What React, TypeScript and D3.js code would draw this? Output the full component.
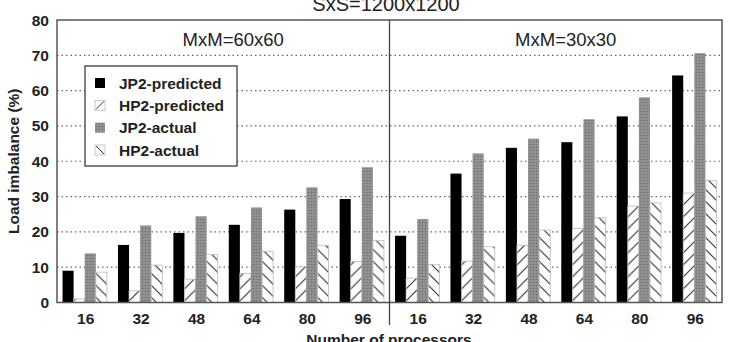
import React from "react";
import * as d3 from "d3";

const procs = ["16", "32", "48", "64", "80", "96"];
const panels = ["MxM=60x60", "MxM=30x30"];
const series = ["JP2-predicted", "HP2-predicted", "JP2-actual", "HP2-actual"];

// MxM=60x60
const jp2Pred60 = [9.0, 16.3, 19.7, 22.0, 26.3, 29.3];
const hp2Pred60 = [1.0, 3.3, 6.6, 8.2, 10.1, 11.6];
const jp2Act60 = [13.9, 21.8, 24.4, 26.9, 32.6, 38.3];
const hp2Act60 = [8.6, 10.6, 13.6, 14.5, 16.2, 17.5];
// MxM=30x30
const jp2Pred30 = [18.9, 36.5, 43.8, 45.4, 52.7, 64.3];
const hp2Pred30 = [6.9, 11.7, 16.2, 21.0, 27.3, 31.0];
const jp2Act30 = [23.6, 42.2, 46.4, 51.9, 58.1, 70.6];
const hp2Act30 = [10.8, 15.8, 20.5, 24.0, 28.2, 34.6];

const yTicks = [0, 10, 20, 30, 40, 50, 60, 70, 80];

const W = 736;
const H = 342;
const left = 57;
const right = 722;
const top = 20;
const bottom = 302.5;

const font = "'Liberation Sans', Arial, Helvetica, sans-serif";

const fills: Record<string, string> = {
  "JP2-predicted": "#000",
  "HP2-predicted": "url(#hatchFwd)",
  "JP2-actual": "url(#stipple)",
  "HP2-actual": "url(#hatchBack)",
};
const strokes: Record<string, string> = {
  "JP2-predicted": "none",
  "HP2-predicted": "#bbb",
  "JP2-actual": "none",
  "HP2-actual": "#bbb",
};

export default function App() {
  const data: Record<string, number[][]> = {
    "MxM=60x60": [jp2Pred60, hp2Pred60, jp2Act60, hp2Act60],
    "MxM=30x30": [jp2Pred30, hp2Pred30, jp2Act30, hp2Act30],
  };

  const y = d3.scaleLinear().domain([0, 80]).range([bottom, top]);
  const xPanel = d3.scaleBand<string>().domain(panels).range([left, right]);
  const xGroup = d3
    .scaleBand<string>()
    .domain(procs)
    .range([0, xPanel.bandwidth()])
    .paddingInner(0.2)
    .paddingOuter(0.1);
  const xSeries = d3.scaleBand<string>().domain(series).range([0, xGroup.bandwidth()]);

  const divider = xPanel("MxM=30x30") as number;
  const legendRows = d3.scalePoint<string>().domain(series).range([83, 150]);

  return (
    <div style={{ position: "absolute", left: 0, top: 0 }}>
      <svg width={W} height={H} style={{ display: "block", background: "#fff" }} fontFamily={font}>
        <defs>
          <pattern id="hatchFwd" patternUnits="userSpaceOnUse" width={12} height={12}>
            <rect width={12} height={12} fill="#fff" />
            <path d="M0,12 L12,0 M-3,3 L3,-3 M9,15 L15,9" stroke="#333" strokeWidth={1.1} />
          </pattern>
          <pattern id="hatchBack" patternUnits="userSpaceOnUse" width={12} height={12}>
            <rect width={12} height={12} fill="#fff" />
            <path d="M0,0 L12,12 M-3,9 L3,15 M9,-3 L15,3" stroke="#333" strokeWidth={1.1} />
          </pattern>
          <pattern id="stipple" patternUnits="userSpaceOnUse" width={3} height={3}>
            <rect width={3} height={3} fill="#8c8c8c" />
            <rect x={0} y={0} width={1} height={1} fill="#6a6a6a" />
            <rect x={1.5} y={1.5} width={1} height={1} fill="#a8a8a8" />
          </pattern>
        </defs>

        {/* title */}
        <text x={386} y={11} textAnchor="middle" fontSize={20} fill="#222">
          SxS=1200x1200
        </text>

        {/* gridlines */}
        {yTicks
          .filter((t) => t > 0 && t < 80)
          .map((t) => (
            <line
              key={t}
              x1={left}
              x2={right}
              y1={y(t)}
              y2={y(t)}
              stroke="#666"
              strokeWidth={1.2}
              strokeDasharray="1.5 3"
            />
          ))}

        {/* bars */}
        {panels.map((p) => (
          <g key={p} transform={`translate(${xPanel(p)},0)`}>
            {procs.map((n, i) => (
              <g key={n} transform={`translate(${xGroup(n)},0)`}>
                {series.map((s, k) => {
                  const v = data[p][k][i];
                  return (
                    <rect
                      key={s}
                      x={xSeries(s)}
                      y={y(v)}
                      width={xSeries.bandwidth()}
                      height={y(0) - y(v)}
                      fill={fills[s]}
                      stroke={strokes[s]}
                      strokeWidth={0.8}
                    />
                  );
                })}
              </g>
            ))}
            <text
              x={xPanel.bandwidth() / 2 + 10}
              y={46}
              textAnchor="middle"
              fontSize={18.5}
              fill="#222"
            >
              {p}
            </text>
          </g>
        ))}

        {/* frame and divider */}
        <rect x={left} y={top} width={right - left} height={bottom - top} fill="none" stroke="#555" strokeWidth={1.5} />
        <line x1={divider} x2={divider} y1={top} y2={325} stroke="#444" strokeWidth={1.3} />

        {/* y axis */}
        {yTicks.map((t) => (
          <text key={t} x={49} y={y(t) + 5.5} textAnchor="end" fontSize={15.5} fontWeight="bold" fill="#222">
            {t}
          </text>
        ))}
        <text
          transform={`translate(18.5,${(top + bottom) / 2}) rotate(-90)`}
          textAnchor="middle"
          fontSize={15.5}
          fontWeight="bold"
          fill="#222"
        >
          Load imbalance (%)
        </text>

        {/* x axis labels */}
        {panels.map((p) =>
          procs.map((n) => (
            <text
              key={p + n}
              x={(xPanel(p) as number) + (xGroup(n) as number) + xGroup.bandwidth() / 2 + 1}
              y={324}
              textAnchor="middle"
              fontSize={15.5}
              fontWeight="bold"
              fill="#222"
            >
              {n}
            </text>
          ))
        )}
        <text x={389} y={345} textAnchor="middle" fontSize={15.5} fontWeight="bold" fill="#222">
          Number of processors
        </text>

        {/* legend */}
        <rect x={85} y={66} width={152} height={100} fill="#fff" stroke="#555" strokeWidth={1.5} />
        {series.map((s) => {
          const cy = legendRows(s) as number;
          return (
            <g key={s}>
              <rect
                x={95}
                y={cy - 5}
                width={10}
                height={10}
                fill={s.startsWith("HP2") ? "#fff" : fills[s]}
                stroke={strokes[s]}
                strokeWidth={0.8}
              />
              {s === "HP2-predicted" && <line x1={96} y1={cy + 4} x2={104} y2={cy - 4} stroke="#333" strokeWidth={1} />}
              {s === "HP2-actual" && <line x1={96} y1={cy - 4} x2={104} y2={cy + 4} stroke="#333" strokeWidth={1} />}
              <text x={119} y={cy + 5.5} fontSize={15.5} fontWeight="bold" fill="#222">
                {s}
              </text>
            </g>
          );
        })}
      </svg>
    </div>
  );
}
